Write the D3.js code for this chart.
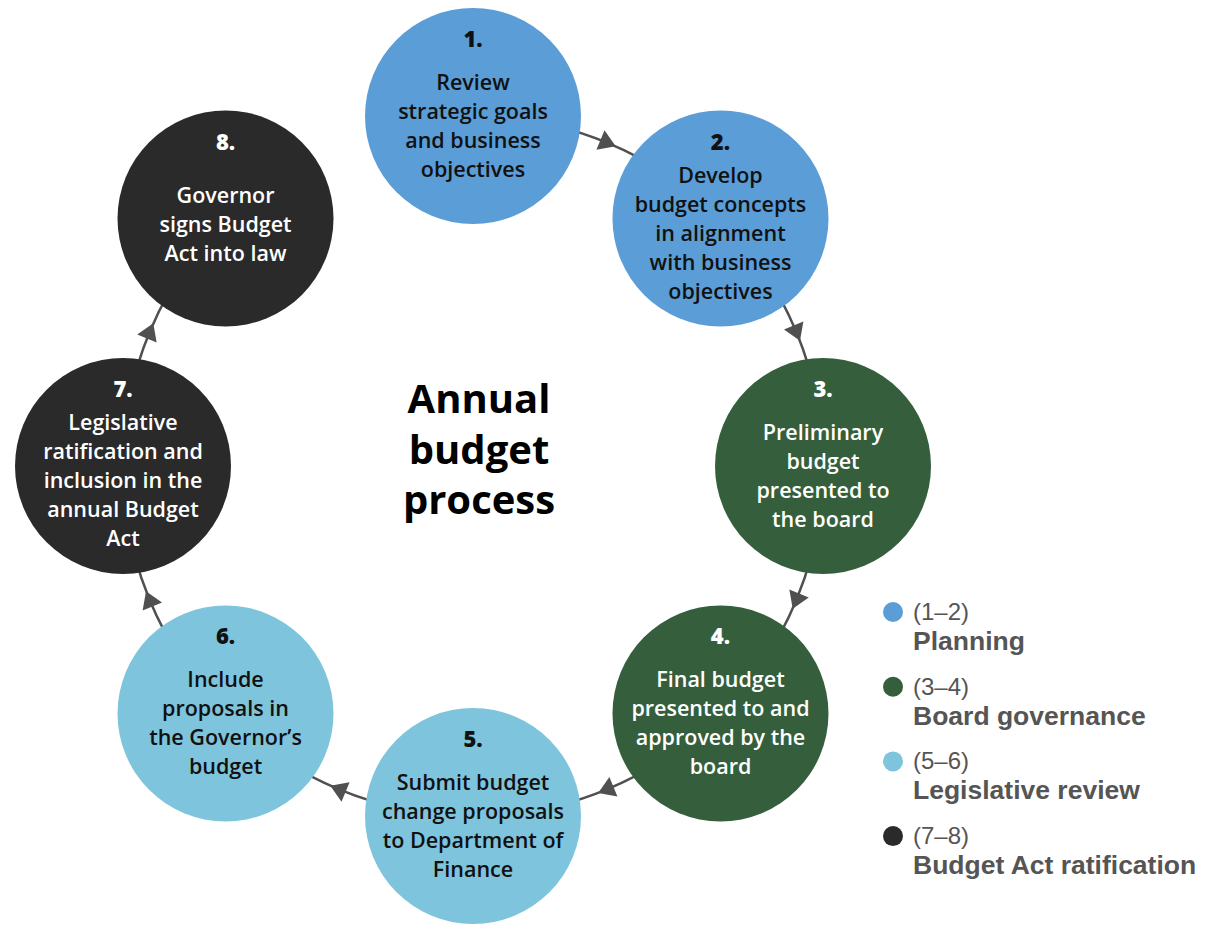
<!DOCTYPE html>
<html>
<head>
<meta charset="utf-8">
<script src="https://cdn.jsdelivr.net/npm/d3@7"></script>
<style>
  html, body { margin: 0; padding: 0; background: #ffffff; }
  svg { display: block; }
</style>
</head>
<body>
<svg id="chart" width="1208" height="926"></svg>
<script>
// ---------- data ----------
const stepNumbers = ["1.", "2.", "3.", "4.", "5.", "6.", "7.", "8."];
const stepLines = [
  ["Review", "strategic goals", "and business", "objectives"],
  ["Develop", "budget concepts", "in alignment", "with business", "objectives"],
  ["Preliminary", "budget", "presented to", "the board"],
  ["Final budget", "presented to and", "approved by the", "board"],
  ["Submit budget", "change proposals", "to Department of", "Finance"],
  ["Include", "proposals in", "the Governor\u2019s", "budget"],
  ["Legislative", "ratification and", "inclusion in the", "annual Budget", "Act"],
  ["Governor", "signs Budget", "Act into law"]
];
const stepPhase = [0, 0, 1, 1, 2, 2, 3, 3];
// connectors: from step index -> next step index (no link from 8 back to 1)
const links = [[0, 1], [1, 2], [2, 3], [3, 4], [4, 5], [5, 6], [6, 7]];
const phaseRanges = ["(1\u20132)", "(3\u20134)", "(5\u20136)", "(7\u20138)"];
const phaseNames = ["Planning", "Board governance", "Legislative review", "Budget Act ratification"];
const titleLines = ["Annual", "budget", "process"];

// ---------- layout ----------
const svg = d3.select("#chart");
const cx = 473, cy = 466, ringR = 350, nodeR = 108;
const FONT = "'Open Sans', 'Liberation Sans', Arial, sans-serif";
const LFONT = "'Liberation Sans', Arial, sans-serif";
const LINK = "#505050";

const color = d3.scaleOrdinal()
  .domain(d3.range(phaseNames.length))
  .range(["#5b9dd6", "#355f3c", "#7ec4dc", "#2a2a2a"]);
const textColor = d3.scaleOrdinal()
  .domain(d3.range(phaseNames.length))
  .range(["#111111", "#ffffff", "#111111", "#ffffff"]);

const angle = d3.scaleLinear().domain([0, stepNumbers.length]).range([-Math.PI / 2, 1.5 * Math.PI]);
const px = i => cx + ringR * Math.cos(angle(i));
const py = i => cy + ringR * Math.sin(angle(i));

const steps = stepNumbers.map((n, i) => ({ i, n, lines: stepLines[i], phase: stepPhase[i] }));

// ring connectors (arcs of the ring through node centres)
svg.append("g").selectAll("path")
  .data(links)
  .join("path")
  .attr("d", ([a, b]) => {
    const p = d3.path();
    p.arc(cx, cy, ringR, angle(a), angle(b));
    return p.toString();
  })
  .attr("fill", "none")
  .attr("stroke", LINK)
  .attr("stroke-width", 2.5);

// arrowheads in the gaps, pointing along the direction of travel
const arrowShape = d3.line()([[0, -9.5], [-10.5, 7], [10.5, 7]]) + "Z";
svg.append("g").selectAll("path")
  .data(links)
  .join("path")
  .attr("d", arrowShape)
  .attr("fill", LINK)
  .attr("transform", ([a, b]) => {
    const t = angle((a + b) / 2);
    const x = cx + ringR * Math.cos(t), y = cy + ringR * Math.sin(t);
    return `translate(${x},${y}) rotate(${t * 180 / Math.PI + 180})`;
  });

// nodes
const node = svg.append("g").selectAll("g")
  .data(steps)
  .join("g")
  .attr("transform", d => `translate(${px(d.i)},${py(d.i)})`);

node.append("circle")
  .attr("r", nodeR)
  .attr("fill", d => color(d.phase));

node.each(function (d) {
  const g = d3.select(this);
  const n = d.lines.length;
  const numY = -69;
  const firstY = Math.max(-26 - (n - 4) * 10, numY + 33);
  g.append("text")
    .attr("text-anchor", "middle")
    .attr("y", numY)
    .attr("font-family", FONT)
    .attr("font-weight", 800)
    .attr("font-size", 22)
    .attr("fill", textColor(d.phase))
    .text(d.n);
  g.append("text")
    .attr("text-anchor", "middle")
    .attr("font-family", FONT)
    .attr("font-weight", 600)
    .attr("font-size", 21.5)
    .attr("fill", textColor(d.phase))
    .selectAll("tspan")
    .data(d.lines)
    .join("tspan")
    .attr("x", 0)
    .attr("y", (l, j) => firstY + j * 29)
    .text(l => l);
});

// title
svg.append("text")
  .attr("text-anchor", "middle")
  .attr("font-family", FONT)
  .attr("font-weight", 700)
  .attr("font-size", 40)
  .attr("fill", "#000")
  .selectAll("tspan")
  .data(titleLines)
  .join("tspan")
  .attr("x", 479)
  .attr("y", (t, j) => 413 + j * 50.5)
  .text(t => t);

// legend
const legend = svg.append("g").attr("transform", "translate(893,612)");
const item = legend.selectAll("g")
  .data(phaseNames.map((name, k) => ({ name, range: phaseRanges[k], k })))
  .join("g")
  .attr("transform", d => `translate(0,${d.k * 74.7})`);
item.append("circle").attr("r", 10).attr("fill", d => color(d.k));
item.append("text")
  .attr("x", 20).attr("y", 8)
  .attr("font-family", LFONT).attr("font-size", 24).attr("font-weight", 400)
  .attr("fill", "#555555")
  .text(d => d.range);
item.append("text")
  .attr("x", 20).attr("y", 38)
  .attr("font-family", LFONT).attr("font-size", 26.5).attr("font-weight", 700)
  .attr("fill", "#555555")
  .text(d => d.name);
</script>
</body>
</html>
